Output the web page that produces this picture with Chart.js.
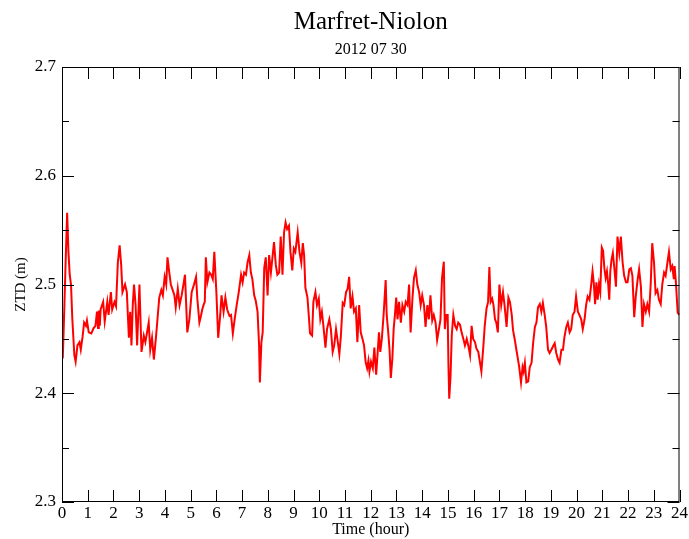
<!DOCTYPE html>
<html>
<head>
<meta charset="utf-8">
<style>
  html, body { margin: 0; padding: 0; background: #fff; }
  #wrap { width: 689px; height: 539px; }
</style>
</head>
<body>
<div id="wrap">
  <canvas id="ztdChart" width="689" height="539"></canvas>
</div>
<script src="https://cdn.jsdelivr.net/npm/chart.js"></script>
<script>
  const chartTitle = "Marfret-Niolon";
  const chartDate = "2012 07 30";
  const xLabel = "Time (hour)";
  const yLabel = "ZTD (m)";

  // hours of day
  const hours = [
    0.00, 0.03, 0.08, 0.14, 0.20, 0.25, 0.30, 0.35, 0.40, 0.48, 0.53, 0.60, 0.68, 0.73, 0.80, 0.86, 0.93, 0.97,
    1.04, 1.14, 1.23, 1.30, 1.36, 1.40, 1.43, 1.47, 1.50, 1.60, 1.66, 1.76, 1.81, 1.90, 1.95,
    2.04, 2.10, 2.17, 2.24, 2.30, 2.35, 2.45, 2.52, 2.60, 2.65, 2.70, 2.75, 2.80, 2.86, 2.92,
    3.01, 3.09, 3.18, 3.24, 3.30, 3.37, 3.43, 3.50, 3.57, 3.65, 3.70, 3.78, 3.86, 3.92, 3.99,
    4.05, 4.10, 4.17, 4.23, 4.30, 4.37, 4.42, 4.50, 4.57, 4.65, 4.72, 4.78, 4.87, 4.95,
    5.04, 5.13, 5.21, 5.26, 5.34, 5.40, 5.45, 5.50, 5.55, 5.59, 5.65, 5.73, 5.80, 5.86, 5.92,
    6.00, 6.07, 6.15, 6.20, 6.28, 6.35, 6.42, 6.51, 6.57, 6.64, 6.71, 6.79, 6.87, 6.96,
    7.02, 7.08, 7.15, 7.21, 7.28, 7.34, 7.40, 7.47, 7.53, 7.60, 7.66, 7.69, 7.75, 7.80, 7.86, 7.92, 7.99,
    8.05, 8.12, 8.18, 8.24, 8.31, 8.37, 8.44, 8.50, 8.57, 8.63, 8.69, 8.75, 8.82, 8.88, 8.95,
    9.01, 9.07, 9.16, 9.23, 9.30, 9.36, 9.41, 9.46, 9.54, 9.59, 9.64, 9.72, 9.77, 9.85, 9.91, 9.98,
    10.04, 10.10, 10.16, 10.24, 10.30, 10.39, 10.45, 10.52, 10.58, 10.65, 10.72, 10.78, 10.84, 10.91, 10.97,
    11.04, 11.10, 11.16, 11.22, 11.29, 11.35, 11.42, 11.48, 11.55, 11.61, 11.68, 11.74, 11.80, 11.86, 11.91, 11.95,
    12.01, 12.08, 12.14, 12.21, 12.27, 12.32, 12.37, 12.43, 12.49, 12.53, 12.58, 12.62, 12.68, 12.73, 12.78, 12.84, 12.89, 12.94, 12.99,
    13.04, 13.10, 13.17, 13.23, 13.30, 13.36, 13.43, 13.49, 13.55, 13.62, 13.68, 13.75, 13.81, 13.88, 13.94,
    14.00, 14.07, 14.13, 14.20, 14.26, 14.32, 14.39, 14.45, 14.52, 14.58, 14.65, 14.71, 14.77, 14.84, 14.88, 14.93, 14.99,
    15.02, 15.05, 15.10, 15.15, 15.21, 15.28, 15.34, 15.40, 15.47, 15.53, 15.60, 15.66, 15.73, 15.79, 15.86, 15.92, 15.98,
    16.05, 16.11, 16.18, 16.24, 16.30, 16.37, 16.43, 16.50, 16.56, 16.61, 16.66, 16.72, 16.77, 16.83, 16.88, 16.94,
    17.00, 17.07, 17.14, 17.20, 17.28, 17.35, 17.41, 17.48, 17.53, 17.60, 17.66, 17.71, 17.77, 17.84, 17.90, 17.94, 17.99,
    18.05, 18.12, 18.18, 18.25, 18.31, 18.38, 18.44, 18.50, 18.57, 18.63, 18.69, 18.76, 18.82, 18.89, 18.95,
    19.02, 19.08, 19.15, 19.21, 19.28, 19.34, 19.41, 19.47, 19.53, 19.60, 19.66, 19.73, 19.79, 19.85, 19.92, 19.98,
    20.05, 20.11, 20.18, 20.24, 20.31, 20.37, 20.43, 20.50, 20.56, 20.62, 20.67, 20.72, 20.77, 20.82, 20.87, 20.92, 20.98,
    21.03, 21.08, 21.13, 21.18, 21.23, 21.27, 21.31, 21.36, 21.41, 21.46, 21.53, 21.59, 21.66, 21.72, 21.79, 21.85, 21.92, 21.98,
    22.05, 22.11, 22.17, 22.24, 22.30, 22.37, 22.43, 22.50, 22.56, 22.62, 22.69, 22.75, 22.82, 22.88, 22.94,
    23.01, 23.07, 23.14, 23.20, 23.27, 23.33, 23.40, 23.46, 23.53, 23.59, 23.66, 23.72, 23.78, 23.81, 23.86, 23.93, 24.00
  ];

  // zenith total delay (m)
  const ztd = [
    2.472, 2.432, 2.470, 2.520, 2.566, 2.530, 2.509, 2.500, 2.469, 2.435, 2.429, 2.444, 2.447, 2.440, 2.452, 2.465, 2.462, 2.467,
    2.456, 2.455, 2.460, 2.462, 2.475, 2.460, 2.476, 2.462, 2.477, 2.484, 2.466, 2.484, 2.472, 2.493, 2.477,
    2.484, 2.480, 2.520, 2.536, 2.518, 2.493, 2.500, 2.493, 2.451, 2.475, 2.444, 2.481, 2.500, 2.481, 2.444,
    2.500, 2.438, 2.453, 2.447, 2.455, 2.465, 2.440, 2.451, 2.431, 2.451, 2.465, 2.488, 2.495, 2.490, 2.507,
    2.500, 2.525, 2.511, 2.500, 2.495, 2.490, 2.479, 2.496, 2.481, 2.490, 2.500, 2.509, 2.456, 2.468,
    2.493, 2.500, 2.507, 2.487, 2.465, 2.471, 2.477, 2.481, 2.484, 2.525, 2.502, 2.511, 2.509, 2.505, 2.530,
    2.493, 2.451, 2.472, 2.490, 2.475, 2.488, 2.477, 2.471, 2.472, 2.455, 2.468, 2.481, 2.493, 2.509,
    2.502, 2.511, 2.509, 2.520, 2.527, 2.511, 2.505, 2.490, 2.485, 2.475, 2.444, 2.410, 2.447, 2.456, 2.515, 2.525, 2.490,
    2.527, 2.511, 2.525, 2.539, 2.518, 2.509, 2.511, 2.544, 2.509, 2.548, 2.557, 2.551, 2.554, 2.530, 2.513,
    2.533, 2.530, 2.548, 2.530, 2.520, 2.538, 2.527, 2.497, 2.488, 2.472, 2.455, 2.453, 2.484, 2.493, 2.481, 2.487,
    2.468, 2.475, 2.462, 2.442, 2.459, 2.468, 2.459, 2.438, 2.444, 2.459, 2.447, 2.436, 2.453, 2.483, 2.481,
    2.493, 2.496, 2.507, 2.478, 2.489, 2.475, 2.478, 2.447, 2.481, 2.456, 2.450, 2.444, 2.429, 2.423, 2.430, 2.420,
    2.429, 2.423, 2.442, 2.417, 2.438, 2.456, 2.438, 2.450, 2.469, 2.484, 2.504, 2.472, 2.456, 2.440, 2.414, 2.432, 2.459, 2.472, 2.488,
    2.468, 2.484, 2.465, 2.481, 2.475, 2.484, 2.481, 2.500, 2.456, 2.487, 2.506, 2.513, 2.500, 2.493, 2.481,
    2.490, 2.481, 2.461, 2.481, 2.468, 2.490, 2.467, 2.472, 2.465, 2.449, 2.459, 2.468, 2.506, 2.521, 2.459, 2.472, 2.472,
    2.426, 2.395, 2.415, 2.454, 2.472, 2.462, 2.459, 2.465, 2.463, 2.456, 2.450, 2.444, 2.450, 2.444, 2.435, 2.462, 2.450,
    2.447, 2.441, 2.438, 2.429, 2.420, 2.441, 2.462, 2.478, 2.484, 2.516, 2.484, 2.487, 2.481, 2.468, 2.465, 2.456,
    2.500, 2.481, 2.493, 2.481, 2.461, 2.488, 2.484, 2.472, 2.458, 2.449, 2.440, 2.433, 2.424, 2.410, 2.424, 2.420, 2.428,
    2.410, 2.411, 2.424, 2.428, 2.446, 2.461, 2.465, 2.479, 2.482, 2.475, 2.483, 2.472, 2.461, 2.440, 2.437,
    2.440, 2.443, 2.446, 2.437, 2.431, 2.428, 2.440, 2.440, 2.452, 2.461, 2.465, 2.456, 2.459, 2.472, 2.475, 2.489,
    2.475, 2.472, 2.468, 2.459, 2.468, 2.481, 2.489, 2.486, 2.498, 2.512, 2.501, 2.482, 2.502, 2.486, 2.500, 2.493, 2.534,
    2.531, 2.515, 2.506, 2.512, 2.500, 2.486, 2.512, 2.523, 2.529, 2.517, 2.498, 2.544, 2.529, 2.544, 2.520, 2.508, 2.502, 2.502,
    2.514, 2.515, 2.508, 2.470, 2.489, 2.504, 2.514, 2.498, 2.461, 2.482, 2.475, 2.482, 2.475, 2.500, 2.538,
    2.520, 2.492, 2.495, 2.486, 2.482, 2.500, 2.511, 2.508, 2.520, 2.530, 2.514, 2.517, 2.505, 2.517, 2.502, 2.474, 2.472
  ];

  const xTicks = [0, 1, 2, 3, 4, 5, 6, 7, 8, 9, 10, 11, 12, 13, 14, 15, 16, 17, 18, 19, 20, 21, 22, 23, 24];
  const yTicks = [2.3, 2.4, 2.5, 2.6, 2.7];
  const yMinorTicks = [2.35, 2.45, 2.55, 2.65];

  const serif = "'Liberation Serif', 'DejaVu Serif', serif";

  // frame, inward ticks on all four sides and the two title lines
  const framePlugin = {
    id: "frame",
    afterDraw(chart) {
      const { ctx, chartArea: a, scales } = chart;
      ctx.save();
      ctx.strokeStyle = "#000";
      ctx.lineWidth = 1;
      ctx.strokeRect(a.left + 0.5, a.top + 0.5, a.right - a.left - 1, a.bottom - a.top - 1);
      ctx.beginPath();
      xTicks.forEach((t) => {
        const px = Math.round(scales.x.getPixelForValue(t)) + 0.5;
        ctx.moveTo(px, a.bottom); ctx.lineTo(px, a.bottom - 12);
        ctx.moveTo(px, a.top); ctx.lineTo(px, a.top + 12);
      });
      yTicks.forEach((t) => {
        const py = Math.round(scales.y.getPixelForValue(t)) + 0.5;
        ctx.moveTo(a.left, py); ctx.lineTo(a.left + 12, py);
        ctx.moveTo(a.right, py); ctx.lineTo(a.right - 12, py);
      });
      yMinorTicks.forEach((t) => {
        const py = Math.round(scales.y.getPixelForValue(t)) + 0.5;
        ctx.moveTo(a.left, py); ctx.lineTo(a.left + 7, py);
        ctx.moveTo(a.right, py); ctx.lineTo(a.right - 7, py);
      });
      ctx.stroke();

      const cx = (a.left + a.right) / 2;
      ctx.fillStyle = "#000";
      ctx.textAlign = "center";
      ctx.textBaseline = "alphabetic";
      ctx.font = "25px " + serif;
      ctx.fillText(chartTitle, cx, 29);
      ctx.font = "16px " + serif;
      ctx.fillText(chartDate, cx, 54);
      ctx.restore();
    },
  };

  new Chart(document.getElementById("ztdChart"), {
    type: "line",
    data: {
      datasets: [
        {
          data: hours.map((h, i) => ({ x: h, y: ztd[i] })),
          borderColor: "rgb(255, 0, 0)",
          borderWidth: 2,
          pointRadius: 0,
          tension: 0,
          fill: false,
        },
      ],
    },
    options: {
      responsive: false,
      animation: false,
      layout: { padding: { top: 67, right: 5, left: 0, bottom: 0 } },
      plugins: { legend: { display: false }, tooltip: { enabled: false } },
      scales: {
        x: {
          type: "linear",
          min: 0,
          max: 24,
          afterFit: (s) => { s.height = 37; },
          afterBuildTicks: (s) => { s.ticks = xTicks.map((v) => ({ value: v })); },
          grid: { display: false, drawTicks: false },
          border: { display: false },
          ticks: { color: "#000", font: { family: serif, size: 17 }, padding: 1, maxRotation: 0 },
          title: { display: true, text: xLabel, color: "#000", font: { family: serif, size: 16 }, padding: { top: 0, bottom: 0 } },
        },
        y: {
          min: 2.3,
          max: 2.7,
          afterFit: (s) => { s.width = 62; },
          afterBuildTicks: (s) => { s.ticks = yTicks.map((v) => ({ value: v })); },
          grid: { display: false, drawTicks: false },
          border: { display: false },
          ticks: {
            color: "#000",
            font: { family: serif, size: 17 },
            padding: 6,
            callback: (v) => Number(v).toFixed(1),
          },
          title: { display: true, text: yLabel, color: "#000", font: { family: serif, size: 15 }, padding: { top: 12, bottom: 4 } },
        },
      },
    },
    plugins: [framePlugin],
  });
</script>
</body>
</html>
